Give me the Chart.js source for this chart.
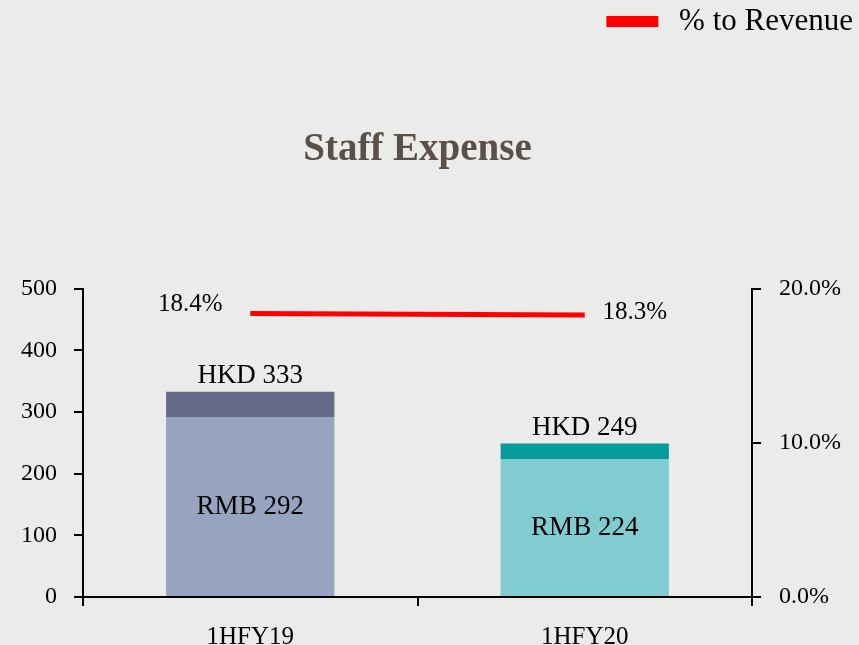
<!DOCTYPE html>
<html lang="en">
<head>
    <meta charset="UTF-8">
    <title>Staff Expense</title>
    <script src="https://cdn.jsdelivr.net/npm/chart.js"></script>
    <style>
        html, body { margin: 0; padding: 0; background: #ebebea; }
        #wrap { position: relative; width: 859px; height: 645px; }
    </style>
</head>
<body>
<div id="wrap"><canvas id="staffChart" width="859" height="645"></canvas></div>
<script>
    // valores
    const categories = ['1HFY19', '1HFY20'];
    const rmbValues = [292, 224];
    const hkdTotals = [333, 249];
    const pctToRevenue = [18.4, 18.3];
    const leftTicks = [0, 100, 200, 300, 400, 500];
    const rightTicks = [0, 10, 20];

    const hkdExtra = hkdTotals.map((t, i) => t - rmbValues[i]);

    const serif = "'Liberation Serif', 'Times New Roman', serif";

    // rótulos em cima das barras e da linha
    const labelsPlugin = {
        id: 'labelsPlugin',
        afterDatasetsDraw(chart) {
            const ctx = chart.ctx;
            const rmbMeta = chart.getDatasetMeta(0);
            const hkdMeta = chart.getDatasetMeta(1);
            const lineMeta = chart.getDatasetMeta(2);
            ctx.save();
            ctx.fillStyle = '#000';
            ctx.font = '27px ' + serif;
            ctx.textAlign = 'center';
            ctx.textBaseline = 'middle';
            for (let i = 0; i < categories.length; i++) {
                const top = hkdMeta.data[i];
                ctx.fillText('HKD ' + hkdTotals[i], top.x, top.y - 16);
                const seg = rmbMeta.data[i];
                ctx.fillText('RMB ' + rmbValues[i], seg.x, (seg.y + seg.base) / 2);
            }
            ctx.font = '25px ' + serif;
            const p0 = lineMeta.data[0];
            const p1 = lineMeta.data[1];
            ctx.fillText(pctToRevenue[0].toFixed(1) + '%', p0.x - 60, p0.y - 9);
            ctx.fillText(pctToRevenue[1].toFixed(1) + '%', p1.x + 50, p1.y - 3);
            ctx.restore();
        }
    };

    const config = {
        type: 'bar',
        data: {
            labels: categories,
            datasets: [
                {
                    label: 'RMB',
                    data: rmbValues,
                    backgroundColor: ['#96a4bf', '#80ccd0'],
                    stack: 'a',
                    yAxisID: 'y',
                    order: 2
                },
                {
                    label: 'HKD',
                    data: hkdExtra,
                    backgroundColor: ['#636a88', '#069b9b'],
                    stack: 'a',
                    yAxisID: 'y',
                    order: 2
                },
                {
                    type: 'line',
                    label: '% to Revenue',
                    data: pctToRevenue,
                    borderColor: '#ff0000',
                    backgroundColor: '#ff0000',
                    borderWidth: 5,
                    pointRadius: 0,
                    yAxisID: 'y1',
                    order: 1
                }
            ]
        },
        options: {
            responsive: false,
            animation: false,
            layout: { padding: 0 },
            datasets: {
                bar: { categoryPercentage: 1, barPercentage: 0.503 }
            },
            plugins: {
                tooltip: { enabled: false },
                legend: {
                    position: 'top',
                    align: 'end',
                    weight: 3000,
                    labels: {
                        // só a linha aparece na legenda
                        generateLabels: chart => Chart.defaults.plugins.legend.labels.generateLabels(chart)
                            .filter(l => l.datasetIndex === 2)
                            .map(l => ({ ...l, text: ' ' + l.text })),
                        color: '#000',
                        font: { family: serif, size: 31 },
                        boxWidth: 47,
                        boxHeight: 6,
                        padding: 6
                    }
                },
                title: {
                    display: true,
                    fullSize: false,
                    text: 'Staff Expense',
                    color: '#5a5047',
                    font: { family: serif, size: 39, weight: 'bold' },
                    padding: { top: 80, bottom: 115 }
                }
            },
            scales: {
                x: {
                    stacked: true,
                    offset: true,
                    grid: { offset: true, drawOnChartArea: false, tickLength: 9, color: '#000', lineWidth: 2 },
                    border: { color: '#000', width: 2 },
                    ticks: { color: '#000', font: { family: serif, size: 25 }, padding: 16 },
                    afterFit: s => { s.height = 48; }
                },
                y: {
                    position: 'left',
                    stacked: true,
                    min: 0,
                    max: 500,
                    afterBuildTicks: s => { s.ticks = leftTicks.map(v => ({ value: v })); },
                    grid: { drawOnChartArea: false, tickLength: 9, color: '#000', lineWidth: 2 },
                    border: { color: '#000', width: 2 },
                    ticks: { color: '#000', font: { family: serif, size: 24 }, padding: 17 },
                    afterFit: s => { s.width = 83; }
                },
                y1: {
                    position: 'right',
                    min: 0,
                    max: 20,
                    afterBuildTicks: s => { s.ticks = rightTicks.map(v => ({ value: v })); },
                    grid: { drawOnChartArea: false, tickLength: 9, color: '#000', lineWidth: 2 },
                    border: { color: '#000', width: 2 },
                    ticks: {
                        color: '#000',
                        font: { family: serif, size: 24 },
                        padding: 18,
                        callback: v => v.toFixed(1) + '%'
                    },
                    afterFit: s => { s.width = 107; }
                }
            }
        },
        plugins: [labelsPlugin]
    };

    const staffChart = new Chart(document.getElementById('staffChart'), config);
</script>
</body>
</html>
